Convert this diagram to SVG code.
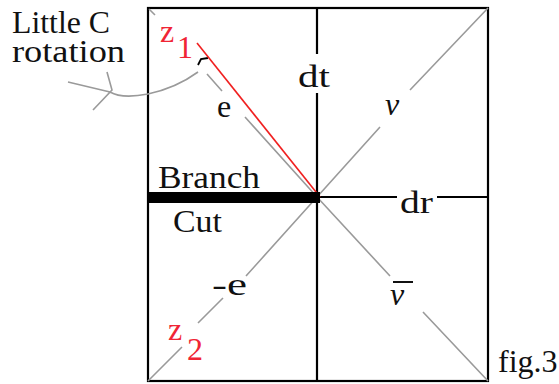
<svg xmlns="http://www.w3.org/2000/svg" width="559" height="384" viewBox="0 0 559 384">
<style>
text{font-family:"Liberation Serif","Times New Roman",serif;fill:#111;font-size:32px}
.red{fill:#f02535}
.it{font-style:italic}
.g{stroke:#9a9a9a;stroke-width:1.6;fill:none}
.k{stroke:#000;stroke-width:2.2;fill:none}
</style>
<rect width="559" height="384" fill="#fff"/>
<g id="frame">
<rect x="148" y="8" width="340" height="373" class="k" stroke-width="2.6"/>
</g>
<g id="connectors">
<path class="k" d="M317,8 V54 M317,93 V381"/>
<path class="k" d="M320,197 H397 M437,197 H488"/>
<path class="g" d="M488,8 L410,90 M380,127 L317,197"/>
<path class="g" d="M317,197 L390,276 M423,312 L488,381"/>
<path class="g" d="M317,197 L246,276 M223,298 L198,323 M182,347 L148,381"/>
<path class="g" d="M149,9 L155,15 M207,74 L222,91 M245,117 L317,197"/>
<path d="M198,65 L201,59 L208,58" stroke="#000" stroke-width="1.8" fill="none"/>
<path d="M197,43 L320,197" stroke="#f02020" stroke-width="1.6" fill="none"/>
<path class="g" d="M68,82 L110,92 M107,72 L112,90 L93,110 M110,92 Q122,99 148,94 Q176,88 198,72"/>
<rect x="148" y="192" width="172" height="11" fill="#000"/>
</g>
<g id="label-little-c">
<text x="12" y="33" font-size="29" textLength="98" lengthAdjust="spacingAndGlyphs">Little C</text>
<text x="12" y="62" font-size="29" textLength="113" lengthAdjust="spacingAndGlyphs">rotation</text>
</g>
<g id="label-z1">
<text class="red" x="160" y="42" font-size="34">z</text>
<text class="red" x="177" y="58" font-size="34">1</text>
</g>
<g id="label-e"><text x="217" y="117" font-size="37">e</text></g>
<g id="label-dt"><text x="298" y="87" textLength="32" lengthAdjust="spacingAndGlyphs">dt</text></g>
<g id="label-nu"><text class="it" x="385" y="115">ν</text></g>
<g id="label-dr"><text x="400" y="213" font-size="33" textLength="33" lengthAdjust="spacingAndGlyphs">dr</text></g>
<g id="label-branch-cut">
<text x="158" y="188" font-size="33" textLength="102" lengthAdjust="spacingAndGlyphs">Branch</text>
<text x="173" y="232" font-size="33" textLength="49" lengthAdjust="spacingAndGlyphs">Cut</text>
</g>
<g id="label-minus-e"><text x="212" y="295" font-size="33" textLength="35" lengthAdjust="spacingAndGlyphs">-e</text></g>
<g id="label-z2">
<text class="red" x="168" y="340" font-size="34">z</text>
<text class="red" x="187" y="360" font-size="40">2</text>
</g>
<g id="label-nubar">
<text class="it" x="390" y="305">ν</text>
<line x1="393" y1="282" x2="413" y2="282" stroke="#111" stroke-width="2"/>
</g>
<g id="label-fig"><text x="498" y="372" font-size="30">fig.3</text></g>
</svg>
